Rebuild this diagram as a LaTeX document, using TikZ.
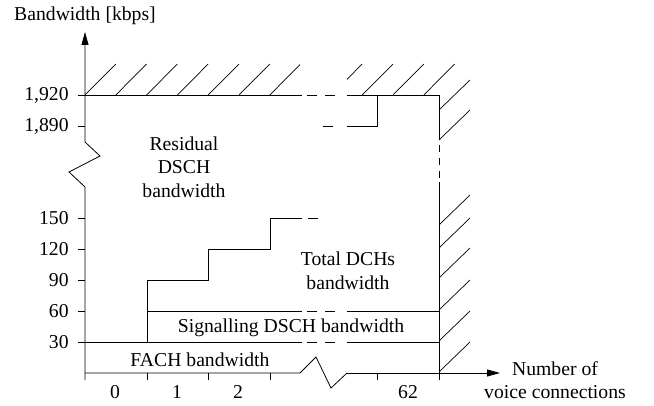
\documentclass[tikz,border=0pt]{standalone}
\usepackage{fontspec}
\setmainfont{Liberation Serif}
\usetikzlibrary{arrows.meta}

\begin{document}
\begin{tikzpicture}[x=0.02cm, y=-0.02cm,
    every node/.style={font=\fontsize{11.2}{13.4}\selectfont, inner sep=0pt},
    lbl/.style={align=center},
    ln/.style={line width=0.45pt},
    gapdash/.style={ln, dash pattern=on 0.2cm off 0.16cm},
    hatch/.style={line width=0.4pt},
    axis/.style={line width=0.45pt, -{Triangle[length=0.26cm, width=0.14cm]}}
  ]
    \useasboundingbox (0,0) rectangle (654,406);

    % axes, with their breaks
    \coordinate (O) at (85,373);
    \coordinate (ytop) at (85,32);
    \coordinate (xend) at (500,373);
    \draw[axis] (85,380) -- (85,187) -- (69,172) -- (100,156) -- (85,142) -- (ytop);
    \draw[ln] (O) -- (300,373) -- (316,357) -- (331,388) -- (347,373);
    \draw[axis] (347,373) -- (xend);

    % ticks
    \foreach \y in {95,126,218,249,280,311,342}
      \draw[ln] (78,\y) -- (85,\y);
    \foreach \x in {147,208,270,377}
      \draw[ln] (\x,373) -- (\x,380);

    % capacity limits
    \draw[ln] (85,95) -- (302,95);
    \draw[gapdash] (307,95) -- (337,95);
    \draw[ln] (347,95) -- (439,95) -- (439,140);
    \draw[ln, dash pattern=on 0.14cm off 0.12cm] (439,145) -- (439,178);
    \draw[ln] (439,182) -- (439,380);

    % hatching
    \begin{scope}
      \clip (85,50) rectangle (300,96) (347,50) rectangle (475,96);
      \foreach \i in {0,...,11}
        \draw[hatch] ({85+30.8*\i},95) -- ++(30.8,-31);
    \end{scope}
    \foreach \y in {110,140,225,248,278,310,341,372}
      \draw[hatch] (439,\y) -- ++(31,-30);

    % bandwidth shares
    \draw[ln] (85,342) -- (302,342);
    \draw[gapdash] (307,342) -- (337,342);
    \draw[ln] (347,342) -- (439,342);
    \draw[ln] (147,311) -- (302,311);
    \draw[gapdash] (307,311) -- (337,311);
    \draw[ln] (347,311) -- (439,311);
    \draw[ln] (147,342) -- (147,280) -- (208,280) -- (208,249) -- (270,249)
      -- (270,218) -- (302,218);
    \draw[ln] (308,218) -- (318,218);
    \draw[ln] (323,126) -- (333,126);
    \draw[ln] (347,126) -- (377,126) -- (377,95);

    % labels
    \node (ylab) at (85,16) {Bandwidth [kbps]};
    \node[lbl] (xlab) at (555,380) {Number of\\voice connections};
    \foreach \y/\t in {95/{1,920},126/{1,890},218/150,249/120,280/90,311/60,342/30}
      \node[anchor=east] (y\y) at (69,\y) {\t};
    \foreach \x/\t in {115/0,177/1,238/2,408/62}
      \node (x\t) at (\x,392) {\t};
    \node[lbl] (residual) at (184,167) {Residual\\DSCH\\bandwidth};
    \node[lbl] (dchs) at (348,271) {Total DCHs\\bandwidth};
    \node (signal) at (291,328) {Signalling DSCH bandwidth};
    \node (fach) at (200,360) {FACH bandwidth};
  \end{tikzpicture}
\end{document}
